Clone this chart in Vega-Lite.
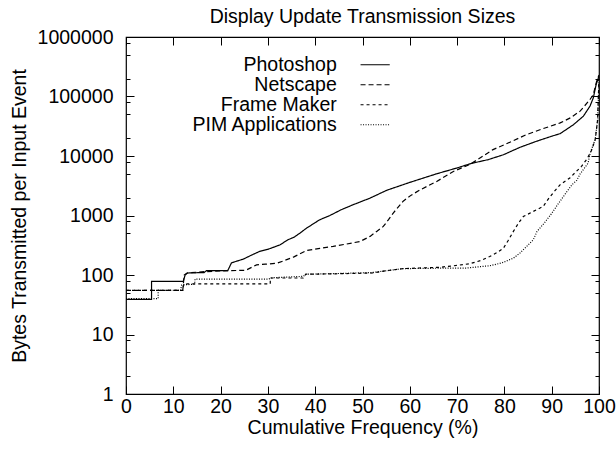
{
  "$schema": "https://vega.github.io/schema/vega-lite/v6.json",
  "autosize": {"type": "none"},
  "padding": {"left": 126, "top": 37, "right": 17, "bottom": 57},
  "width": 473,
  "height": 357,
  "background": "white",
  "title": {"text": "Display Update Transmission Sizes", "fontSize": 19.5, "fontWeight": "normal", "font": "Liberation Sans", "color": "black", "baseline": "alphabetic", "frame": "group", "offset": -15, "anchor": "middle"},
  "data": {"values": [
    {"s":"Photoshop","x":0,"y":39},{"s":"Photoshop","x":5.4,"y":39},{"s":"Photoshop","x":5.4,"y":78},{"s":"Photoshop","x":12.1,"y":78},{"s":"Photoshop","x":12.5,"y":100},{"s":"Photoshop","x":13,"y":108},{"s":"Photoshop","x":16.5,"y":110},{"s":"Photoshop","x":17,"y":118},{"s":"Photoshop","x":21.5,"y":118},{"s":"Photoshop","x":22.3,"y":160},{"s":"Photoshop","x":24.8,"y":185},{"s":"Photoshop","x":26.5,"y":215},{"s":"Photoshop","x":28.3,"y":250},{"s":"Photoshop","x":30,"y":270},{"s":"Photoshop","x":32.6,"y":322},{"s":"Photoshop","x":34.2,"y":390},{"s":"Photoshop","x":35.5,"y":430},{"s":"Photoshop","x":36.8,"y":507},{"s":"Photoshop","x":38,"y":600},{"s":"Photoshop","x":40,"y":760},{"s":"Photoshop","x":41,"y":850},{"s":"Photoshop","x":43.1,"y":1000},{"s":"Photoshop","x":45.5,"y":1250},{"s":"Photoshop","x":48,"y":1515},{"s":"Photoshop","x":51.6,"y":1960},{"s":"Photoshop","x":55.1,"y":2650},{"s":"Photoshop","x":60,"y":3600},{"s":"Photoshop","x":65.7,"y":5030},{"s":"Photoshop","x":70,"y":6300},{"s":"Photoshop","x":73,"y":7500},{"s":"Photoshop","x":76.6,"y":8700},{"s":"Photoshop","x":79.8,"y":10500},{"s":"Photoshop","x":83.3,"y":14000},{"s":"Photoshop","x":86.8,"y":17700},{"s":"Photoshop","x":90,"y":21500},{"s":"Photoshop","x":91.8,"y":23800},{"s":"Photoshop","x":94.6,"y":33600},{"s":"Photoshop","x":96.7,"y":46700},{"s":"Photoshop","x":98.1,"y":69000},{"s":"Photoshop","x":98.8,"y":95000},{"s":"Photoshop","x":99.4,"y":160000},{"s":"Photoshop","x":100,"y":220000},
    {"s":"Netscape","x":0,"y":55},{"s":"Netscape","x":12,"y":55},{"s":"Netscape","x":12.3,"y":100},{"s":"Netscape","x":12.9,"y":108},{"s":"Netscape","x":16,"y":113},{"s":"Netscape","x":20,"y":117},{"s":"Netscape","x":25,"y":120},{"s":"Netscape","x":25.5,"y":122},{"s":"Netscape","x":27.6,"y":148},{"s":"Netscape","x":29.5,"y":152},{"s":"Netscape","x":31.9,"y":158},{"s":"Netscape","x":33.5,"y":175},{"s":"Netscape","x":35.4,"y":200},{"s":"Netscape","x":38.2,"y":258},{"s":"Netscape","x":41,"y":280},{"s":"Netscape","x":43.8,"y":302},{"s":"Netscape","x":46.5,"y":330},{"s":"Netscape","x":49.5,"y":366},{"s":"Netscape","x":51.6,"y":446},{"s":"Netscape","x":53,"y":540},{"s":"Netscape","x":54.4,"y":655},{"s":"Netscape","x":55.5,"y":850},{"s":"Netscape","x":56.5,"y":1100},{"s":"Netscape","x":58.6,"y":1740},{"s":"Netscape","x":60.3,"y":2200},{"s":"Netscape","x":62.2,"y":2700},{"s":"Netscape","x":65.7,"y":3740},{"s":"Netscape","x":69.2,"y":5500},{"s":"Netscape","x":72.7,"y":7200},{"s":"Netscape","x":77.6,"y":12800},{"s":"Netscape","x":80,"y":15500},{"s":"Netscape","x":84.7,"y":22900},{"s":"Netscape","x":88,"y":28500},{"s":"Netscape","x":91.8,"y":36000},{"s":"Netscape","x":94,"y":44000},{"s":"Netscape","x":96,"y":56700},{"s":"Netscape","x":98.1,"y":89000},{"s":"Netscape","x":98.8,"y":108000},{"s":"Netscape","x":99.5,"y":180000},{"s":"Netscape","x":100,"y":230000},
    {"s":"Frame Maker","x":0,"y":55},{"s":"Frame Maker","x":12,"y":55},{"s":"Frame Maker","x":12.2,"y":71},{"s":"Frame Maker","x":30.5,"y":71},{"s":"Frame Maker","x":30.5,"y":89},{"s":"Frame Maker","x":37.5,"y":89},{"s":"Frame Maker","x":38,"y":103},{"s":"Frame Maker","x":45,"y":105},{"s":"Frame Maker","x":52,"y":108},{"s":"Frame Maker","x":55,"y":118},{"s":"Frame Maker","x":58.6,"y":128},{"s":"Frame Maker","x":62,"y":131},{"s":"Frame Maker","x":66.4,"y":135},{"s":"Frame Maker","x":70,"y":145},{"s":"Frame Maker","x":72.7,"y":155},{"s":"Frame Maker","x":75,"y":175},{"s":"Frame Maker","x":76.9,"y":204},{"s":"Frame Maker","x":78.5,"y":240},{"s":"Frame Maker","x":79.8,"y":283},{"s":"Frame Maker","x":80.8,"y":380},{"s":"Frame Maker","x":81.9,"y":540},{"s":"Frame Maker","x":83,"y":750},{"s":"Frame Maker","x":84,"y":960},{"s":"Frame Maker","x":86.1,"y":1170},{"s":"Frame Maker","x":88.2,"y":1420},{"s":"Frame Maker","x":89.3,"y":1900},{"s":"Frame Maker","x":90.3,"y":2400},{"s":"Frame Maker","x":91.8,"y":3300},{"s":"Frame Maker","x":93.9,"y":4300},{"s":"Frame Maker","x":95,"y":5300},{"s":"Frame Maker","x":96.3,"y":6700},{"s":"Frame Maker","x":97.5,"y":9000},{"s":"Frame Maker","x":98.5,"y":12800},{"s":"Frame Maker","x":99.2,"y":19000},{"s":"Frame Maker","x":99.7,"y":40000},{"s":"Frame Maker","x":100,"y":200000},
    {"s":"PIM Applications","x":0,"y":40},{"s":"PIM Applications","x":6.8,"y":40},{"s":"PIM Applications","x":6.8,"y":55},{"s":"PIM Applications","x":11.5,"y":55},{"s":"PIM Applications","x":11.8,"y":68},{"s":"PIM Applications","x":14.5,"y":70},{"s":"PIM Applications","x":14.6,"y":85},{"s":"PIM Applications","x":30,"y":85},{"s":"PIM Applications","x":31,"y":90},{"s":"PIM Applications","x":37.5,"y":95},{"s":"PIM Applications","x":38,"y":103},{"s":"PIM Applications","x":45,"y":106},{"s":"PIM Applications","x":52,"y":110},{"s":"PIM Applications","x":58.6,"y":128},{"s":"PIM Applications","x":66.4,"y":130},{"s":"PIM Applications","x":72,"y":131},{"s":"PIM Applications","x":76.9,"y":143},{"s":"PIM Applications","x":79.5,"y":160},{"s":"PIM Applications","x":81.9,"y":192},{"s":"PIM Applications","x":83.3,"y":234},{"s":"PIM Applications","x":84.7,"y":302},{"s":"PIM Applications","x":86.1,"y":390},{"s":"PIM Applications","x":86.9,"y":540},{"s":"PIM Applications","x":88.5,"y":760},{"s":"PIM Applications","x":89.8,"y":1030},{"s":"PIM Applications","x":91.2,"y":1500},{"s":"PIM Applications","x":92.5,"y":2100},{"s":"PIM Applications","x":94.3,"y":3300},{"s":"PIM Applications","x":95.3,"y":3900},{"s":"PIM Applications","x":96,"y":5000},{"s":"PIM Applications","x":97.7,"y":7600},{"s":"PIM Applications","x":98.1,"y":11000},{"s":"PIM Applications","x":99.2,"y":19000},{"s":"PIM Applications","x":99.7,"y":40000},{"s":"PIM Applications","x":100,"y":190000}
  ]},
  "layer": [
    {
      "transform": [{"filter": "datum.s === 'Photoshop' || datum.s === 'Netscape'"}],
      "mark": {"type": "line", "stroke": "black", "strokeWidth": 1.2, "clip": true},
      "encoding": {
        "x": {"field": "x", "type": "quantitative", "scale": {"domain": [0, 100], "nice": false, "zero": false},
          "axis": {"orient": "bottom", "values": [0,10,20,30,40,50,60,70,80,90,100], "tickSize": -8, "labelPadding": 11, "labelFlush": false, "labelOverlap": false, "title": "Cumulative Frequency (%)", "titleY": 39, "titleBaseline": "alphabetic"}},
        "y": {"field": "y", "type": "quantitative", "scale": {"type": "log", "domain": [1, 1000000], "nice": false},
          "axis": {"orient": "left", "values": [1,2,5,8,10,20,50,80,100,200,500,800,1000,2000,5000,8000,10000,20000,50000,80000,100000,200000,500000,800000,1000000],
            "labelExpr": "indexof([1,10,100,1000,10000,100000,1000000], datum.value) >= 0 ? format(datum.value, 'd') : ''",
            "tickSize": {"condition": {"test": "indexof([1,10,100,1000,10000,100000,1000000], datum.value) >= 0", "value": -8}, "value": -4},
            "labelPadding": 21, "labelFlush": false, "labelOverlap": false, "labelBaseline": "middle",
            "title": "Bytes Transmitted per Input Event", "titleX": -107, "titleY": 178.5, "titleAngle": 270, "titleAlign": "center", "titleBaseline": "middle"}},
        "strokeDash": {"field": "s", "type": "nominal", "scale": {"domain": ["Photoshop", "Netscape", "Frame Maker", "PIM Applications"], "range": [[1, 0], [5, 3], [3, 3], [1, 1.5]]},
          "legend": {"title": null, "orient": "none", "legendX": 235, "legendY": 18, "symbolType": "M-1.2,0H2.235", "symbolSize": 289, "symbolStrokeColor": "black", "symbolFillColor": "transparent", "symbolStrokeWidth": 1.2, "symbolOpacity": 1, "rowPadding": -2, "labelAlign": "right", "labelOffset": -43.75, "labelFontSize": 19.5, "labelColor": "black", "labelFont": "Liberation Sans", "labelLimit": 300, "padding": 0}},
        "order": {"value": null}
      }
    },
    {
      "transform": [{"filter": "datum.s === 'Frame Maker' || datum.s === 'PIM Applications'"}],
      "mark": {"type": "line", "stroke": "black", "strokeWidth": 1.2, "clip": true},
      "encoding": {
        "x": {"field": "x", "type": "quantitative",
          "axis": {"orient": "top", "values": [0,10,20,30,40,50,60,70,80,90,100], "tickSize": -8, "labels": false, "title": null}},
        "y": {"field": "y", "type": "quantitative",
          "axis": {"orient": "right", "values": [1,2,5,8,10,20,50,80,100,200,500,800,1000,2000,5000,8000,10000,20000,50000,80000,100000,200000,500000,800000,1000000],
            "tickSize": {"condition": {"test": "indexof([1,10,100,1000,10000,100000,1000000], datum.value) >= 0", "value": -8}, "value": -4},
            "labels": false, "title": null}},
        "strokeDash": {"field": "s", "type": "nominal"},
        "order": {"value": null}
      }
    }
  ],
  "resolve": {"axis": {"x": "independent", "y": "independent"}},
  "config": {
    "font": "Liberation Sans",
    "view": {"stroke": "black", "strokeWidth": 1.2},
    "axis": {"domain": false, "grid": false, "tickColor": "black", "tickWidth": 1, "labelColor": "black", "titleColor": "black", "labelFontSize": 19.5, "titleFontSize": 19.5, "titleFontWeight": "normal", "labelFont": "Liberation Sans", "titleFont": "Liberation Sans"}
  }
}
